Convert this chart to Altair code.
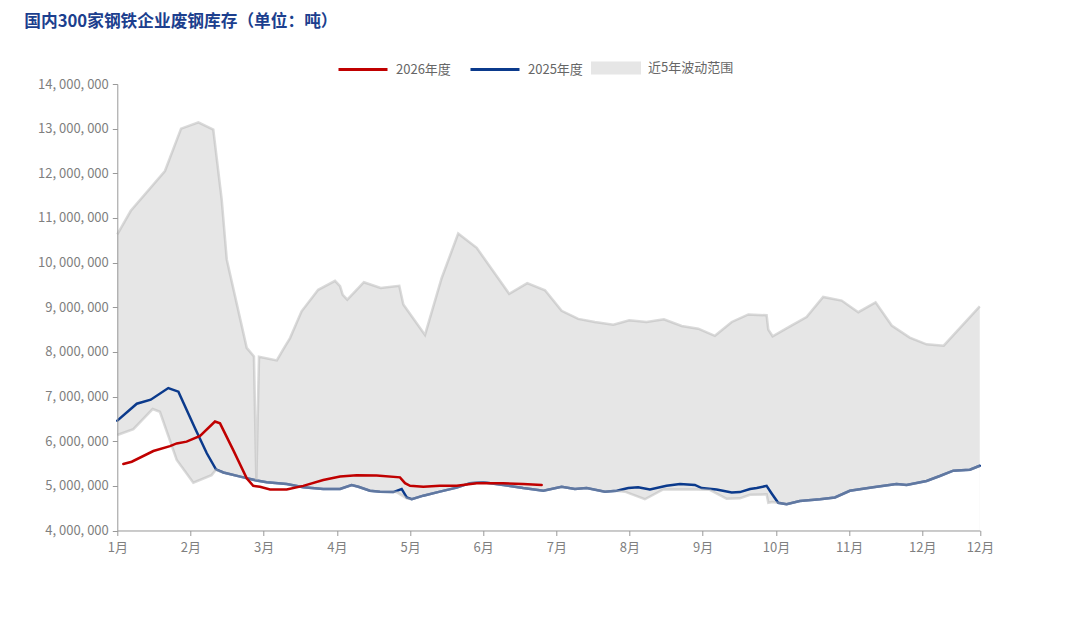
import json
import altair as alt
import pandas as pd

TITLE = "国内300家钢铁企业废钢库存（单位：吨）"
SERIES = ["2026年度", "2025年度"]
SERIES_COLORS = ["#c00000", "#0b3a8c"]
BAND = "近5年波动范围"

# x positions are day-of-season (0 = 1月初, 358.6 = end of axis)
MONTH_TICKS = [0, 30.4, 60.8, 91.3, 121.7, 152.1, 182.5, 212.9, 243.3, 273.8, 304.2, 334.6, 358.6]
MONTH_LABELS = ["1月", "2月", "3月", "4月", "5月", "6月", "7月", "8月", "9月", "10月", "11月", "12月", "12月"]
Y_TICKS = [4000000, 5000000, 6000000, 7000000, 8000000, 9000000, 10000000,
           11000000, 12000000, 13000000, 14000000]
Y_LABELS = [f"{v:,}".replace(",", ", ") for v in Y_TICKS]

# 2025年度 (million tonnes)
DAY_2025 = [0, 8.1, 13.9, 21.2, 25.4, 32.3, 37.2, 41.0, 44.1, 52.4, 57.9, 62.1, 70.4, 77.3, 85.6,
            92.6, 97.4, 100.2, 105.0, 109.2, 114.7, 118.2, 120.3, 122.4, 127.2, 134.1, 141.1, 146.6,
            152.1, 160.4, 168.7, 177.1, 184.7, 190.2, 195.1, 202.7, 207.6, 212.4, 216.5, 221.4,
            228.3, 233.9, 240.1, 242.9, 249.1, 255.4, 258.8, 263.0, 265.8, 269.9, 272.0, 274.7,
            278.2, 283.7, 292.1, 298.3, 304.5, 314.2, 323.9, 328.1, 336.4, 341.9, 347.5, 354.4, 358.5]
VAL_2025 = [6.46, 6.84, 6.93, 7.19, 7.11, 6.29, 5.73, 5.37, 5.30, 5.19, 5.12, 5.08, 5.04, 4.97, 4.93,
            4.93, 5.02, 4.98, 4.89, 4.87, 4.86, 4.93, 4.74, 4.70, 4.78, 4.87, 4.96, 5.06,
            5.08, 5.02, 4.95, 4.89, 4.98, 4.93, 4.95, 4.87, 4.89, 4.95, 4.97, 4.92,
            5.00, 5.04, 5.02, 4.95, 4.92, 4.85, 4.86, 4.93, 4.95, 5.00, 4.83, 4.62,
            4.59, 4.66, 4.70, 4.74, 4.89, 4.97, 5.04, 5.02, 5.11, 5.22, 5.34, 5.36, 5.45]

# 2026年度
DAY_2026 = [2.5, 6.0, 15.0, 21.9, 24.7, 28.8, 34.4, 40.6, 42.7, 48.2, 53.8, 56.5, 59.3, 63.5, 70.4,
            77.3, 85.6, 92.6, 99.5, 107.8, 117.5, 119.6, 121.7, 127.2, 134.1, 141.1, 149.4, 160.4,
            168.7, 176.4]
VAL_2026 = [5.49, 5.54, 5.78, 5.89, 5.95, 5.99, 6.12, 6.44, 6.40, 5.80, 5.17, 5.00, 4.98, 4.92, 4.92,
            5.00, 5.13, 5.21, 5.24, 5.23, 5.19, 5.06, 5.00, 4.98, 5.00, 5.00, 5.06, 5.06,
            5.04, 5.02]

# 近5年波动范围 - upper edge
DAY_HIGH = [0, 5.6, 19.8, 26.5, 33.7, 39.9, 43.4, 45.5, 53.8, 56.8, 57.8, 58.9, 66.3, 68.9, 71.8,
            76.6, 83.5, 90.5, 92.6, 93.7, 95.6, 102.5, 109.5, 117.2, 118.9, 127.9, 134.8, 141.7,
            149.4, 162.9, 170.4, 177.8, 184.7, 191.6, 198.5, 206.2, 212.8, 220.0, 227.2, 234.6,
            241.5, 248.4, 255.4, 262.3, 269.9, 270.6, 272.4, 279.6, 286.5, 293.4, 301.1, 308.0,
            315.2, 321.9, 329.4, 336.4, 343.5, 358.5]
VAL_HIGH = [10.63, 11.16, 12.05, 13.00, 13.14, 12.98, 11.41, 10.07, 8.09, 7.90, 5.13, 7.89, 7.81, 8.05, 8.31,
            8.91, 9.39, 9.59, 9.47, 9.28, 9.17, 9.56, 9.43, 9.48, 9.06, 8.38, 9.65, 10.65,
            10.33, 9.30, 9.54, 9.38, 8.92, 8.74, 8.67, 8.61, 8.71, 8.67, 8.73, 8.58,
            8.52, 8.36, 8.67, 8.84, 8.82, 8.50, 8.35, 8.57, 8.78, 9.23, 9.15, 8.89,
            9.11, 8.59, 8.32, 8.17, 8.14, 9.02]

# 近5年波动范围 - lower edge
DAY_LOW = [0, 6.7, 14.7, 17.7, 24.7, 31.6, 39.2, 41.0, 44.1, 52.4, 57.9, 62.1, 70.4, 77.3, 85.6,
           92.6, 97.4, 100.2, 105.0, 109.2, 116.1, 120.3, 122.4, 127.2, 134.1, 141.1, 146.6, 152.1,
           160.4, 168.7, 177.1, 184.7, 190.2, 195.1, 202.7, 207.6, 211.0, 219.3, 226.9, 240.8,
           246.3, 253.3, 258.8, 263.0, 269.9, 270.6, 272.2, 274.7, 278.2, 283.7, 292.1, 298.3,
           304.5, 314.2, 323.9, 328.1, 336.4, 341.9, 347.5, 354.4, 358.5]
VAL_LOW = [6.14, 6.27, 6.72, 6.66, 5.58, 5.07, 5.24, 5.36, 5.30, 5.19, 5.12, 5.08, 5.04, 4.97, 4.93,
           4.93, 5.02, 4.98, 4.89, 4.87, 4.86, 4.72, 4.70, 4.78, 4.87, 4.96, 5.06, 5.08,
           5.02, 4.95, 4.89, 4.98, 4.93, 4.95, 4.87, 4.89, 4.87, 4.70, 4.92, 4.92,
           4.91, 4.71, 4.72, 4.80, 4.81, 4.62, 4.64, 4.62, 4.59, 4.66, 4.70, 4.74,
           4.89, 4.97, 5.04, 5.02, 5.11, 5.22, 5.34, 5.36, 5.45]

FONT = "Noto Sans CJK SC"

def frame(days, vals, name):
    return pd.DataFrame({"d": days, "v": [round(x * 1e6) for x in vals], "s": name})

df25 = frame(DAY_2025, VAL_2025, SERIES[1])
df26 = frame(DAY_2026, VAL_2026, SERIES[0])
dfh = frame(DAY_HIGH, VAL_HIGH, BAND)
dfl = frame(DAY_LOW, VAL_LOW, BAND)

x_label_expr = (json.dumps(MONTH_LABELS, ensure_ascii=False)
                + "[indexof(" + json.dumps(MONTH_TICKS) + ", datum.value)]")
y_label_expr = (json.dumps(Y_LABELS, ensure_ascii=False)
                + "[indexof(" + json.dumps(Y_TICKS) + ", datum.value)]")

x_enc = alt.X("d:Q", scale=alt.Scale(domain=[0, 358.6], nice=False, zero=False),
              axis=alt.Axis(values=MONTH_TICKS, labelExpr=x_label_expr, title=None, grid=False,
                            tickSize=5, domainColor="#999999", tickColor="#999999",
                            labelColor="#7f7f7f", labelFontSize=13, labelFont=FONT,
                            labelPadding=6, labelFlush=False, labelOverlap=False, zindex=1))
y_enc = alt.Y("v:Q", scale=alt.Scale(domain=[4000000, 14000000], nice=False, zero=False),
              axis=alt.Axis(values=Y_TICKS, labelExpr=y_label_expr, title=None, grid=False,
                            tickSize=5, domainColor="#999999", tickColor="#999999",
                            labelColor="#7f7f7f", labelFontSize=13, labelFont=FONT,
                            labelPadding=4, zindex=1))

line_legend = alt.Legend(title=None, orient="none", direction="horizontal",
                         legendX=219.7, legendY=-40.5, symbolType="stroke",
                         symbolStrokeWidth=3, symbolSize=2401, labelFontSize=13,
                         labelFont=FONT, labelColor="#666666", labelOffset=7,
                         columnPadding=13, padding=0)
color_enc = alt.Color("s:N", scale=alt.Scale(domain=SERIES, range=SERIES_COLORS), legend=line_legend)

band_legend = alt.Legend(title=None, orient="none", direction="horizontal",
                         legendX=473.7, legendY=-41,
                         symbolType="M-1,-0.26L1,-0.26L1,0.26L-1,0.26Z", symbolSize=2500,
                         symbolOpacity=1, symbolStrokeWidth=0, labelFontSize=13, labelFont=FONT,
                         labelColor="#666666", labelOffset=7, padding=0)

grey = alt.Chart(dfh).mark_area(opacity=1).encode(
    x=x_enc, y=y_enc, y2=alt.datum(4000000),
    fill=alt.Fill("s:N", scale=alt.Scale(domain=[BAND], range=["#e6e6e6"]), legend=band_legend))
white = alt.Chart(dfl).mark_area(color="white", opacity=1).encode(x=x_enc, y=y_enc, y2=alt.datum(4000000))
blue = alt.Chart(df25).mark_line(strokeWidth=2.5, strokeCap="round").encode(x=x_enc, y=y_enc, color=color_enc)
red = alt.Chart(df26).mark_line(strokeWidth=2.5, strokeCap="round").encode(x=x_enc, y=y_enc, color=color_enc)
edge_hi = alt.Chart(dfh).mark_line(color="#b5b5b5", opacity=0.5, strokeWidth=2.5).encode(x=x_enc, y=y_enc)
edge_lo = alt.Chart(dfl).mark_line(color="#b5b5b5", opacity=0.5, strokeWidth=2.5).encode(x=x_enc, y=y_enc)

chart = alt.layer(grey, white, blue, edge_hi, edge_lo, red).properties(
    width=862.7, height=446.5,
    title=alt.TitleParams(text=TITLE, anchor="start", frame="group", dx=-93, dy=-12, offset=0,
                          fontSize=16.7, font=FONT, fontWeight="bold", color="#1c3f8e"),
    padding={"left": 109.3, "top": 76, "right": 80, "bottom": 60},
    autosize="none",
).configure(font=FONT).configure_view(strokeWidth=0, stroke=None)

chart.save("out.html", embed_options={"renderer": "svg", "actions": False})
